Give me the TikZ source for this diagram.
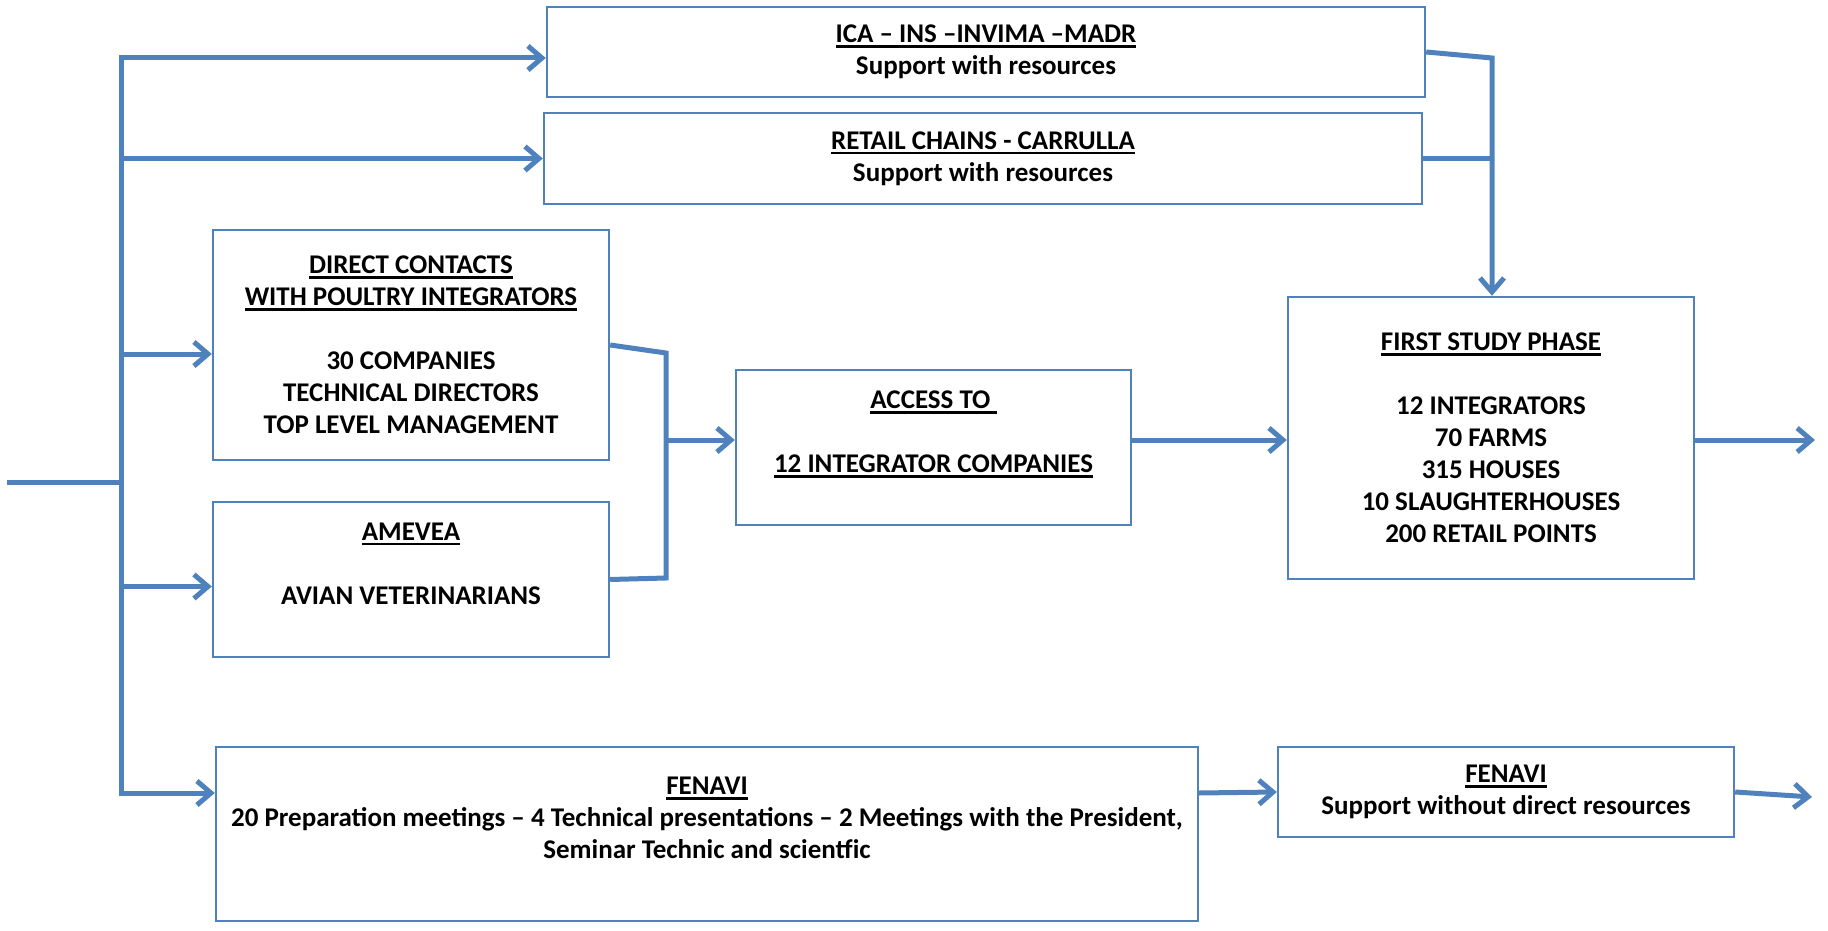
\documentclass[tikz,border=0pt]{standalone}
\usepackage{fontspec}
\setmainfont{Carlito}
\usetikzlibrary{arrows.meta}
\definecolor{boxblue}{RGB}{79,129,189}
\newcommand{\ttl}[1]{\setbox0\hbox{#1}\rlap{\rule[-2.6pt]{\wd0}{1.4pt}}\box0}

\begin{document}
\begin{tikzpicture}[x=0.5pt,y=-0.5pt,
		font=\fontsize{13.5}{16}\selectfont\bfseries,
		block/.style={draw=boxblue,line width=1.2pt,align=center,inner sep=0pt},
		wire/.style={draw=boxblue,line width=2.5pt},
		flow/.style={wire,-{Straight Barb[length=7pt,width=12pt]}}]
		\useasboundingbox (0,0) rectangle (1828,931);
		\node[block,minimum width=439pt,minimum height=45pt] (ica) at (986,52)
			{\ttl{ICA -- INS --INVIMA --MADR}\\Support with resources};
		\node[block,minimum width=439pt,minimum height=45.5pt] (retail) at (983,158.5)
			{\ttl{RETAIL CHAINS - CARRULLA}\\Support with resources};
		\node[block,minimum width=198pt,minimum height=115pt] (direct) at (411,345)
			{\ttl{DIRECT CONTACTS}\\\ttl{WITH POULTRY INTEGRATORS}\\[16pt]30 COMPANIES\\TECHNICAL DIRECTORS\\TOP LEVEL MANAGEMENT};
		\node[block,minimum width=198pt,minimum height=77.5pt] (amevea) at (411,579.5)
			{\ttl{AMEVEA}\\[16pt]AVIAN VETERINARIANS\\~};
		\node[block,minimum width=197.5pt,minimum height=77.5pt] (access) at (933.5,447.5)
			{\ttl{ACCESS TO\ }\\[16pt]\ttl{12 INTEGRATOR COMPANIES}\\~};
		\node[block,minimum width=203pt,minimum height=141pt] (first) at (1491,438)
			{\ttl{FIRST STUDY PHASE}\\[16pt]12 INTEGRATORS\\70 FARMS\\315 HOUSES\\10 SLAUGHTERHOUSES\\200 RETAIL POINTS};
		\node[block,minimum width=491pt,minimum height=87pt] (fenavi) at (707,834)
			{\ttl{FENAVI}\\20 Preparation meetings -- 4 Technical presentations -- 2 Meetings with the President,\\Seminar Technic and scientfic\\~};
		\node[block,minimum width=228pt,minimum height=45pt] (support) at (1506,792)
			{\ttl{FENAVI}\\Support without direct resources};

		\coordinate (src) at (7,482);
		\coordinate (trunktop) at (121,58);
		\coordinate (trunkbot) at (121,793);
		\coordinate (jtop) at (666,353);
		\coordinate (jbot) at (666,578);
		\coordinate (jn) at (666,440);
		\coordinate (bend) at (1492,58);
		\coordinate (out1) at (1815,440);
		\coordinate (out2) at (1812,797);
		\path ([yshift=-4.5pt]direct.west) coordinate (dirin) ([yshift=-3.5pt]amevea.west) coordinate (amein);

		\draw[wire] (src) -- (src -| trunktop);
		\draw[flow] (src -| trunktop) -- (trunktop) -- (trunktop -| ica.west);
		\draw[flow] (src -| trunktop) -- (trunkbot) -- (trunkbot -| fenavi.west);
		\draw[flow] (trunktop |- retail.west) -- (retail.west);
		\draw[flow] (trunktop |- dirin) -- (dirin);
		\draw[flow] (trunktop |- amein) -- (amein);
		\draw[wire] (direct.east) -- (jtop) -- (jbot) -- (amevea.east);
		\draw[flow] (jn) -- (jn -| access.west);
		\draw[flow] (jn -| access.east) -- (jn -| first.west);
		\draw[flow] (jn -| first.east) -- (out1);
		\draw[flow] (ica.east) -- (bend) -- (bend |- first.north);
		\draw[wire] (retail.east) -- (retail.east -| bend);
		\draw[flow] (fenavi.east |- trunkbot) -- (support.west);
		\draw[flow] (support.east) -- (out2);
	\end{tikzpicture}
\end{document}
